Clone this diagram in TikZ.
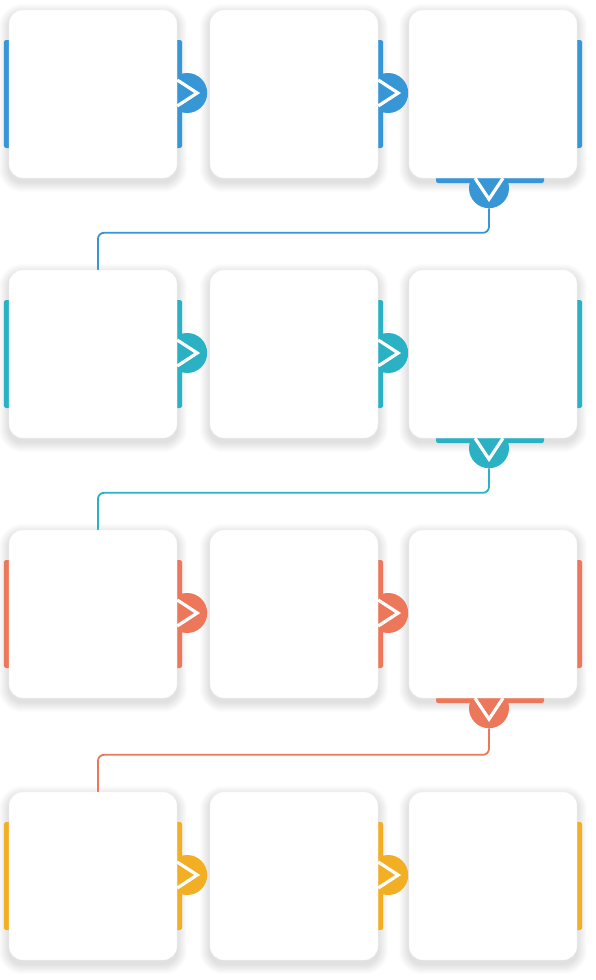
\documentclass[tikz,border=0pt]{standalone}
\usetikzlibrary{calc}
\definecolor{cblue}{HTML}{3796D6}
\definecolor{cteal}{HTML}{2AB1C4}
\definecolor{ccoral}{HTML}{EC775A}
\definecolor{cyellow}{HTML}{F2AF24}
\pgfdeclarelayer{shadowlayer}
\pgfdeclarelayer{backlayer}
\pgfsetlayers{shadowlayer,backlayer,main}
\tikzset{
  card/.style={fill=white, draw=black!4, line width=0.4pt, rounded corners=14pt,
    minimum width=168pt, minimum height=168pt, inner sep=0pt},
  dot/.style={circle, fill=#1, minimum size=40pt, inner sep=0pt},
  chev/.style={draw=white, line width=3.2pt, line join=miter},
  strip/.style={fill=#1, rounded corners=2.5pt},
  conn/.style={draw=#1, line width=1.8pt, rounded corners=6pt},
}
\begin{document}
\begin{tikzpicture}[x=1pt,y=-1pt]
\begin{pgfonlayer}{shadowlayer}
  \fill[white] (0,0) rectangle (595,980);
\end{pgfonlayer}
\useasboundingbox (0,0) rectangle (595,980);
\foreach \r/\yc/\col in {1/94/cblue,2/354/cteal,3/614/ccoral,4/876/cyellow}{
  \node[card] (a\r) at (93,\yc) {};
  \node[card] (b\r) at (294,\yc) {};
  \node[card] (c\r) at (493,\yc) {};
  \begin{pgfonlayer}{shadowlayer}
    \foreach \n in {a\r,b\r,c\r}{
      \foreach \k in {1,...,10}{
        \fill[black, fill opacity=0.011, rounded corners={(14+\k)*1pt}]
          ($(\n.south west)+(-\k,\k+4)$) rectangle ($(\n.north east)+(\k,-\k+4)$);
      }
    }
  \end{pgfonlayer}
  \begin{pgfonlayer}{backlayer}
    \fill[strip=\col] ($(a\r.west)+(-5,-54)$) rectangle ($(a\r.east)+(5,54)$);
    \fill[strip=\col] ($(b\r.east)+(-10,-54)$) rectangle ($(b\r.east)+(5,54)$);
    \fill[strip=\col] ($(c\r.east)+(-10,-54)$) rectangle ($(c\r.east)+(5,54)$);
    \node[dot=\col] (pa\r) at ($(a\r.east)+(10,-1)$) {};
    \node[dot=\col] (pb\r) at ($(b\r.east)+(10,-1)$) {};
    \draw[chev] ($(pa\r)+(-10,-13)$) -- ($(pa\r)+(10,0)$) -- ($(pa\r)+(-10,13)$);
    \draw[chev] ($(pb\r)+(-10,-13)$) -- ($(pb\r)+(10,0)$) -- ($(pb\r)+(-10,13)$);
    \ifnum\r<4
      \fill[strip=\col] ($(c\r.south)+(-57,-10)$) rectangle ($(c\r.south)+(51,5)$);
      \node[dot=\col] (pc\r) at ($(c\r.south)+(-4,10)$) {};
      \draw[chev] ($(pc\r)+(-14,-10)$) -- ($(pc\r)+(0,11)$) -- ($(pc\r)+(14,-10)$);
    \fi
  \end{pgfonlayer}
}
\begin{pgfonlayer}{backlayer}
\foreach \r/\nx/\col in {1/2/cblue,2/3/cteal,3/4/ccoral}{
  \coordinate (k\r) at ($(a\nx.north)+(5,-37)$);
  \draw[conn=\col] (pc\r.south) |- (k\r) -- (a\nx.north -| k\r);
}
\end{pgfonlayer}
\end{tikzpicture}
\end{document}
